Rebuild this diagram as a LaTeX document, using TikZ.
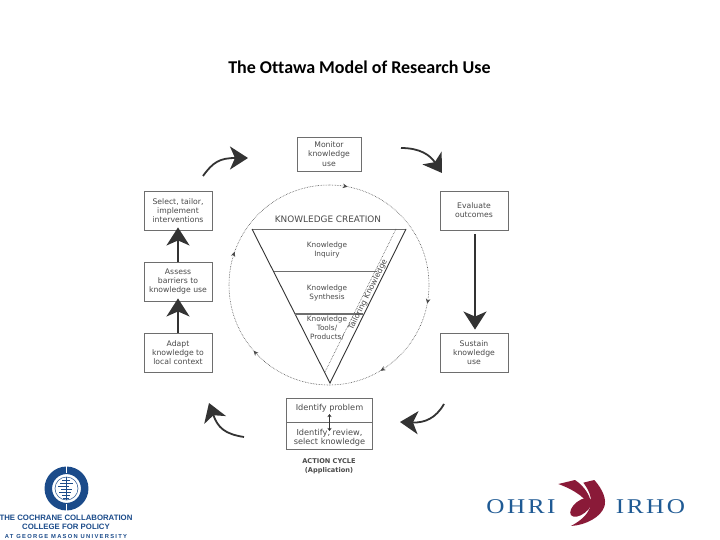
\documentclass[tikz,border=0pt]{standalone}
\usepackage{fontspec}
\setmainfont{DejaVu Sans}
\newfontfamily\titlefont[Ligatures=NoCommon]{Carlito}
\newfontfamily\logofont{Liberation Sans}
\newfontfamily\ohrifont[LetterSpace=10]{Liberation Serif}
\usetikzlibrary{arrows.meta,decorations.markings}
\definecolor{ink}{HTML}{4A4A4A}
\definecolor{edgegray}{HTML}{6E6E6E}
\definecolor{arrowdark}{HTML}{333333}
\definecolor{cochrane}{HTML}{1B4B8A}
\definecolor{ohriblue}{HTML}{1F5A94}
\definecolor{ohrired}{HTML}{8A1A38}
\tikzset{
  x=1pt,y=1pt,
  stepbox/.style={draw=edgegray,line width=0.9pt,fill=white,inner sep=0pt,align=center,text=ink,font=\fontsize{7.7}{9.2}\selectfont},
  lab/.style={text=ink,align=center,inner sep=0pt,font=\fontsize{7.3}{9}\selectfont},
  idlab/.style={text=ink,align=center,inner sep=0pt,font=\fontsize{8.2}{9.2}\selectfont},
  bigarrow/.style={draw=arrowdark,line width=1.8pt,-{Stealth[length=18pt,width=23pt,inset=5pt]}},
  splitline/.style={draw=edgegray,line width=0.8pt},
  loopline/.style={draw=ink,line width=0.6pt,densely dotted},
}
\begin{document}
\begin{tikzpicture}
\useasboundingbox (0,0) rectangle (720,-540);
\fill[white] (0,0) rectangle (720,-540);
\node[font=\titlefont\bfseries\fontsize{18}{19}\selectfont,text=black,inner sep=0pt] (title) at (359.5,-67) {The Ottawa Model of Research Use};

% boxes
\node[stepbox,minimum width=64,minimum height=34] (monitor) at (329,-154) {Monitor\\knowledge\\use};
\node[stepbox,minimum width=68,minimum height=39] (select) at (178,-210.5) {Select, tailor,\\implement\\interventions};
\node[stepbox,minimum width=68,minimum height=39] (assess) at (178,-281.5) {Assess\\barriers to\\knowledge use};
\node[stepbox,minimum width=68,minimum height=39] (adapt) at (178,-352.5) {Adapt\\knowledge to\\local context};
\node[stepbox,minimum width=68,minimum height=39] (evaluate) at (474,-210.5) {Evaluate\\outcomes};
\node[stepbox,minimum width=68,minimum height=39] (sustain) at (474,-352.5) {Sustain\\knowledge\\use};
\node[stepbox,minimum width=86,minimum height=24] (problem) at (329.5,-410) {};
\node[stepbox,minimum width=86,minimum height=27] (review) at (329.5,-435.5) {};
\node[idlab] (problemtext) at (329.5,-408) {Identify problem};
\node[idlab] (reviewtext) at (329.5,-438) {Identify, review,\\select knowledge};
\draw[arrowdark,line width=0.8pt,{Stealth[length=3pt,width=4pt]}-{Stealth[length=3pt,width=4pt]}] (329.5,-414) -- (329.5,-431);
\node[lab,font=\bfseries\fontsize{6.6}{9}\selectfont] (cycle) at (329,-466.5) {ACTION CYCLE\\(Application)};

% circle
\coordinate (circtop) at (329,-185);
\draw[loopline,postaction={decorate},decoration={markings,
  mark=at position 0.03 with {\arrow[solid,ink]{Stealth[length=5pt,width=4.5pt]}},
  mark=at position 0.28 with {\arrow[solid,ink]{Stealth[length=5pt,width=4.5pt]}},
  mark=at position 0.414 with {\arrow[solid,ink]{Stealth[length=5pt,width=4.5pt]}},
  mark=at position 0.636 with {\arrow[solid,ink]{Stealth[length=5pt,width=4.5pt]}},
  mark=at position 0.804 with {\arrow[solid,ink]{Stealth[length=5pt,width=4.5pt]}}}]
  (circtop) arc[start angle=90,delta angle=-360,radius=100];

% funnel
\coordinate (tl) at (252,-229);
\coordinate (tr) at (406,-229);
\coordinate (apex) at (330,-383);
\coordinate (dtop) at (396,-229);
\coordinate (dbot) at (325,-372);
\coordinate (a1) at (274,-271);
\coordinate (b1) at (377,-271);
\coordinate (a2) at (295,-314);
\coordinate (b2) at (363,-314);
\fill[white] (tl) -- (tr) -- (apex) -- cycle;
\draw[edgegray,line width=0.9pt] (tl) -- (tr);
\draw[arrowdark,line width=0.9pt,line join=miter] (tl) -- (apex) -- (tr);
\draw[ink,line width=0.6pt,densely dotted] (dtop) -- (dbot);
\draw[splitline] (a1) -- (b1);
\draw[edgegray,line width=1.4pt] (a2) -- (b2);
\node[lab,font=\fontsize{8.9}{10}\selectfont] (creation) at (328,-219) {KNOWLEDGE CREATION};
\node[lab] (inquiry) at (327,-250) {Knowledge\\Inquiry};
\node[lab] (synthesis) at (327,-293) {Knowledge\\Synthesis};
\node[lab] (tools) at (327,-328) {Knowledge\\Tools/\\Products/};
\node[lab,rotate=63.5,font=\fontsize{7.8}{9}\selectfont] (tailor) at (368,-295) {Tailoring Knowledge};

% big arrows
\coordinate (s1) at (203,-176); \coordinate (e1) at (248,-158);
\coordinate (s2) at (401,-148); \coordinate (e2) at (442,-173);
\coordinate (s3) at (444,-404); \coordinate (e3) at (400,-422);
\coordinate (s4) at (244,-437); \coordinate (e4) at (209,-403);
\draw[bigarrow] (s1) .. controls (213,-162) and (220,-158) .. (e1);
\draw[bigarrow] (s2) .. controls (420,-148) and (430,-155) .. (e2);
\draw[bigarrow] (s3) .. controls (436,-418) and (425,-423) .. (e3);
\draw[bigarrow] (s4) .. controls (225,-434) and (218,-428) .. (e4);
\draw[bigarrow] (evaluate.south) ++(1,-4) coordinate (evs) (evs) -- ([xshift=1pt,yshift=3pt]sustain.north);
\draw[bigarrow] (adapt.north) -- ([yshift=3pt]assess.south);
\draw[bigarrow] (assess.north) -- ([yshift=3pt]select.south);

% Cochrane logo
\coordinate (cc) at (66.5,-488.5);
\draw[cochrane,line width=7.5pt] (cc) circle[radius=18.2];
\draw[cochrane,line width=0.5pt] (cc) circle[radius=11.5];
\fill[white] (65.7,-464) rectangle (67.3,-473);
\fill[white] (65.7,-504) rectangle (67.3,-513);
\draw[cochrane,line width=0.7pt] (66.5,-477) -- (66.5,-500);
\foreach \yy/\aa/\bb in {480/62/70,483/60/73,486/58/69,489/61/72,492/59/71,495/62/70,498/63/69}
  \draw[cochrane,line width=0.6pt] (\aa,-\yy) -- (\bb,-\yy);
\node[font=\logofont\bfseries\fontsize{7.8}{8}\selectfont,text=cochrane,inner sep=0pt] (cl1) at (66,-518) {THE COCHRANE COLLABORATION};
\node[font=\logofont\bfseries\fontsize{7.8}{8}\selectfont,text=cochrane,inner sep=0pt] (cl2) at (66,-527) {COLLEGE FOR POLICY};
\node[font=\logofont\bfseries\fontsize{5.8}{8}\selectfont,text=cochrane,inner sep=0pt] (cl3) at (66,-536) {\addfontfeature{LetterSpace=22}AT GEORGE MASON UNIVERSITY};

% OHRI logo
\node[text=ohriblue,inner sep=0pt] (ohri) at (521,-507) {\scalebox{1.2}[1]{\ohrifont\fontsize{21}{22}\selectfont OHRI}};
\node[text=ohriblue,inner sep=0pt] (irho) at (650.5,-507) {\scalebox{1.2}[1]{\ohrifont\fontsize{21}{22}\selectfont IRHO}};
\begin{scope}[shift={(475,-470)},x=0.3333pt,y=-0.3333pt]
  \fill[ohrired] (325,38) -- (358,30) .. controls (385,60) and (395,90) .. (388,110)
     .. controls (378,140) and (335,165) .. (288,168)
     .. controls (340,140) and (372,100) .. (325,38) -- cycle;
  \fill[ohrired] (250,42) -- (300,30) .. controls (330,50) and (350,80) .. (352,122)
     .. controls (340,90) and (305,62) .. (250,42) -- cycle;
  \fill[ohrired,rotate around={38:(318,112)}] (318,112) ellipse[x radius=38,y radius=20];
\end{scope}
\end{tikzpicture}
\end{document}
